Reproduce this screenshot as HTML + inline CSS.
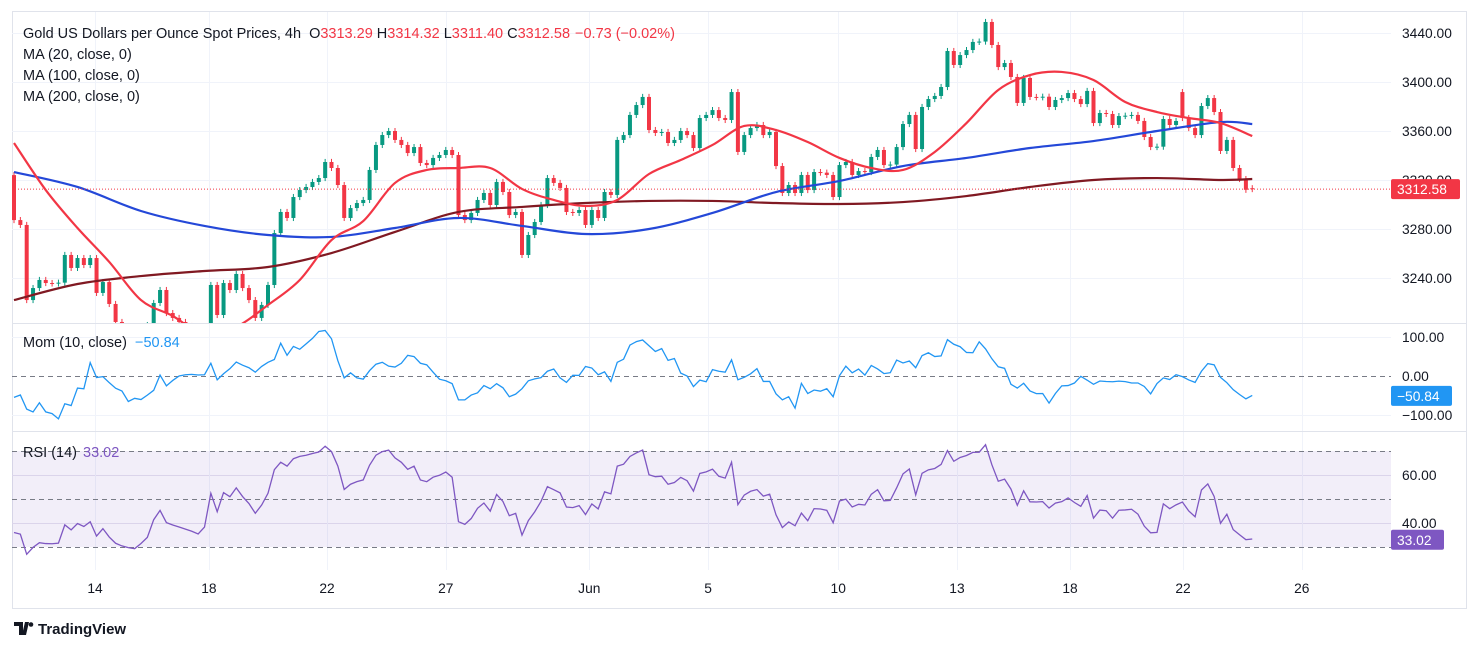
<!DOCTYPE html>
<html><head><meta charset="utf-8">
<style>
html,body{margin:0;padding:0;background:#fff;}
body{width:1479px;height:650px;overflow:hidden;position:relative;font-family:"Liberation Sans",sans-serif;}
svg text{font-family:"Liberation Sans",sans-serif;}
</style></head>
<body>
<svg id="chart" width="1479" height="650" xmlns="http://www.w3.org/2000/svg">
  <defs>
    <clipPath id="mainClip"><rect x="12" y="12" width="1379" height="311"/></clipPath>
  </defs>
  <rect x="12.5" y="11.5" width="1454" height="597" fill="#fff" stroke="#e0e3eb"/>
  <g id="grid"></g>
  <g id="rsiBand"></g>
  <g id="candles" clip-path="url(#mainClip)"></g>
  <g id="mas" clip-path="url(#mainClip)"></g>
  <g id="ind"></g>
  <g id="axes"></g>
  <line x1="12" y1="323.5" x2="1467" y2="323.5" stroke="#e0e3eb"/>
  <line x1="12" y1="431.5" x2="1467" y2="431.5" stroke="#e0e3eb"/>

  <text x="23" y="38" font-size="14.5" fill="#131722">Gold US Dollars per Ounce Spot Prices, 4h <tspan dx="4">O</tspan><tspan fill="#f23645">3313.29</tspan><tspan dx="4">H</tspan><tspan fill="#f23645">3314.32</tspan><tspan dx="4">L</tspan><tspan fill="#f23645">3311.40</tspan><tspan dx="4">C</tspan><tspan fill="#f23645">3312.58</tspan><tspan dx="5" fill="#f23645">−0.73 (−0.02%)</tspan></text>
  <text x="23" y="59" font-size="14.5" fill="#131722">MA (20, close, 0)</text>
  <text x="23" y="80" font-size="14.5" fill="#131722">MA (100, close, 0)</text>
  <text x="23" y="101" font-size="14.5" fill="#131722">MA (200, close, 0)</text>
  <text x="23" y="347" font-size="14.5" fill="#131722">Mom (10, close) <tspan dx="4" fill="#2196f3">−50.84</tspan></text>
  <text x="23" y="457" font-size="14.5" fill="#131722">RSI (14) <tspan dx="2" fill="#7e57c2">33.02</tspan></text>

  <g>
    <path d="M14 622h9v13h-4v-9h-5z M25 622h4l-3 13h-4z" fill="#131722"/>
    <circle cx="31" cy="624.5" r="2.3" fill="#131722"/>
    <text x="38" y="634" font-size="15" font-weight="bold" fill="#131722">TradingView</text>
  </g>
</svg>
<script>
// ---- data ----
const priorCloses = [3342,3332,3307,3324,3307,3328,3332,3346,3330,3324];
const firstOpen = 3324.0;
const closes = [
3287.3,3283.3,3222.0,3231.8,3238.4,3235.9,3235.5,3236.2,3258.8,3248.2,
3256.3,3250.6,3256.3,3227.8,3236.7,3218.8,3204.1,3197.6,3193.5,3191.0,
3195.9,3201.6,3219.6,3230.2,3211.4,3207.4,3204.1,3200.8,3197.6,3193.5,
3199.2,3234.3,3209.8,3235.9,3230.2,3243.3,3231.8,3222.0,3207.4,3218.0,
3234.3,3276.7,3293.9,3289.0,3306.1,3311.8,3314.3,3318.4,3321.6,3334.7,
3329.8,3315.9,3289.0,3297.1,3301.2,3303.7,3328.2,3348.6,3356.7,3360.0,
3352.7,3348.6,3342.0,3346.9,3333.9,3332.2,3338.0,3340.4,3344.5,3340.4,
3291.4,3287.3,3293.1,3303.7,3309.4,3299.6,3318.4,3310.2,3291.4,3293.9,
3258.8,3275.1,3285.7,3299.6,3321.6,3317.6,3313.5,3293.9,3293.1,3295.5,
3283.3,3295.5,3289.0,3310.2,3307.8,3352.7,3356.7,3373.1,3381.2,3387.8,
3360.8,3358.4,3359.2,3350.2,3352.7,3360.0,3356.7,3346.1,3370.6,3373.1,
3377.1,3370.6,3369.0,3391.8,3342.9,3356.7,3362.4,3364.9,3356.7,3359.2,
3331.4,3309.4,3315.9,3309.4,3324.1,3311.8,3326.5,3326.0,3324.1,3306.1,
3332.2,3334.7,3324.1,3327.3,3326.5,3338.8,3344.5,3332.2,3332.6,3346.9,
3365.7,3373.1,3345.3,3379.6,3386.1,3388.6,3395.9,3425.3,3413.9,3422.0,
3426.1,3432.7,3433.0,3449.0,3430.2,3412.2,3415.5,3404.1,3382.9,3403.3,
3387.8,3387.5,3388.0,3379.6,3385.3,3386.9,3391.0,3386.1,3382.0,3392.7,
3366.5,3374.7,3373.9,3364.9,3372.2,3372.5,3373.1,3368.2,3355.1,3346.9,
3347.2,3369.8,3364.9,3368.2,3370.6,3362.4,3356.7,3380.4,3386.9,3375.5,
3343.7,3352.7,3329.8,3320.8,3312.0,3312.58];
const gapOpens = {184: 3391.8, 195: 3313.29};
const ma20 = [3350.2,3311.8,3280.8,3253.1,3222.0,3209.0,3193.5,3200.0,3218.0,3238.4,
3271.0,3286.5,3317.6,3328.2,3329.8,3329.8,3312.7,3303.7,3298.8,3303.7,
3324.9,3336.3,3348.6,3364.1,3360.8,3351.0,3338.0,3329.8,3328.2,3342.9,
3366.5,3393.5,3405.7,3408.2,3401.6,3383.7,3375.5,3370.6,3366.5,3355.9];
const ma100 = [3326.5,3314.3,3294.7,3282.5,3275.1,3273.5,3280.8,3289.0,3282.5,3275.9,
3280.0,3293.1,3310.2,3319.2,3331.4,3338.0,3346.1,3351.8,3360.0,3367.3,3365.7];
const ma200 = [3222.0,3235.1,3241.6,3245.7,3249.0,3260.4,3277.6,3293.9,3298.0,3301.2,
3302.9,3302.9,3301.2,3300.4,3302.0,3306.9,3314.3,3320.0,3321.6,3320.0,3320.8];
const priceTicks = [3440,3400,3360,3320,3280,3240];
const momTicks = [100,0,-100];
const rsiTicks = [60,40];
const dateLabels = ["14","18","22","27","Jun","5","10","13","18","22","26"];
const dateIdx = [12.76,30.7,49.3,68,90.6,109.3,129.8,148.5,166.3,184.1,202.8];
const lastPrice = 3312.58, lastMom = -50.84, lastRsi = 33.02;

// ---- axes ----
const NS="http://www.w3.org/2000/svg";
const X = i => 14 + i*6.35;
const PY = p => 33 + (3440-p)*1.225;
const MY = v => 376 - v*0.39;
const RY = v => 499 - (v-50)*2.4;
function mk(tag, attrs, parent){const e=document.createElementNS(NS,tag);for(const k in attrs)e.setAttribute(k,attrs[k]);parent.appendChild(e);return e;}
const grid=document.getElementById('grid'), axes=document.getElementById('axes');

priceTicks.forEach(p=>{
  const g=mk('line',{x1:12,x2:1391,y1:PY(p)+0.5,y2:PY(p)+0.5,stroke:'#f0f3fa'},grid);
  
  
  const t=mk('text',{x:1402,y:PY(p)+5,'font-size':13.8,fill:'#131722'},axes);
  t.textContent=p.toFixed(2);
  
  
});
[100,-100].forEach(v=>{
  const g=mk('line',{x1:12,x2:1391,y1:MY(v)+0.5,y2:MY(v)+0.5,stroke:'#f0f3fa'},grid);
  
  
});
momTicks.forEach(v=>{
  const t=mk('text',{x:1402,y:MY(v)+5,'font-size':13.8,fill:'#131722'},axes);
  t.textContent=(v<0?'−':'')+Math.abs(v).toFixed(2);
  
  
});
rsiTicks.forEach(v=>{
  const g=mk('line',{x1:12,x2:1391,y1:RY(v)+0.5,y2:RY(v)+0.5,stroke:'#e6e3f0'},grid);
  
  
  const t=mk('text',{x:1402,y:RY(v)+5,'font-size':13.8,fill:'#131722'},axes);
  t.textContent=v.toFixed(2);
  
  
});
dateLabels.forEach((d,k)=>{
  const x=X(dateIdx[k]);
  const g=mk('line',{x1:Math.round(x)+0.5,x2:Math.round(x)+0.5,y1:12,y2:570,stroke:'#f0f3fa'},grid);
  
  
  const t=mk('text',{x:x,y:593,'font-size':13.8,fill:'#131722','text-anchor':'middle'},axes);
  t.textContent=d;
  
  
});

// RSI band and dashed levels
const band=document.getElementById('rsiBand');
const br=mk('rect',{x:12,y:RY(70),width:1379,height:RY(30)-RY(70),fill:'#7e57c2','fill-opacity':0.1},band);


[70,50,30].forEach(v=>{
  const l=mk('line',{x1:12,x2:1391,y1:RY(v)+0.5,y2:RY(v)+0.5,stroke:'#787b86','stroke-dasharray':'5,4'},band);
  
  
});
const mz=mk('line',{x1:12,x2:1391,y1:MY(0)+0.5,y2:MY(0)+0.5,stroke:'#787b86','stroke-dasharray':'5,4'},band);



// candles
const cg=document.getElementById('candles');
closes.forEach((c,i)=>{
  const o = (gapOpens[i]!==undefined) ? gapOpens[i] : (i===0 ? firstOpen : closes[i-1]);
  const up = c>=o, col = up?'#089981':'#f23645';
  const x=X(i);
  const hi=Math.max(o,c)+2.5, lo=Math.min(o,c)-2.5;
  const w=mk('line',{x1:x,x2:x,y1:PY(hi),y2:PY(lo),stroke:col,'stroke-width':1},cg);
  
  
  const top=PY(Math.max(o,c)), h=Math.max(1,PY(Math.min(o,c))-top);
  const b=mk('rect',{x:x-2,y:top,width:4,height:h,fill:col},cg);
  
  
});

// MAs
const mg=document.getElementById('mas');
function maPath(arr, step, color, name){
  const n=closes.length-1;
  const pts=arr.map((v,k)=>[X(Math.min(k*step,n)),PY(v)]);
  let d='M'+pts[0][0]+','+pts[0][1];
  for(let k=1;k<pts.length;k++){
    const p0=pts[Math.max(0,k-2)],p1=pts[k-1],p2=pts[k],p3=pts[Math.min(pts.length-1,k+1)];
    const c1=[p1[0]+(p2[0]-p0[0])/6,p1[1]+(p2[1]-p0[1])/6];
    const c2=[p2[0]-(p3[0]-p1[0])/6,p2[1]-(p3[1]-p1[1])/6];
    d+=' C'+c1[0]+','+c1[1]+' '+c2[0]+','+c2[1]+' '+p2[0]+','+p2[1];
  }
  const p=mk('path',{d:d,fill:'none',stroke:color,'stroke-width':2.2},mg);
  
  
}
maPath(ma200,10,'#801922','ma200-line');
maPath(ma100,10,'#2448d8','ma100-line');
maPath(ma20,5,'#f23645','ma20-line');

// last price line
const lp=mk('line',{x1:12,x2:1391,y1:PY(lastPrice),y2:PY(lastPrice),stroke:'#f23645','stroke-dasharray':'1,2'},axes);



// indicators
const all = priorCloses.concat(closes);
const P = priorCloses.length;
const ig=document.getElementById('ind');
let mpts=[];
closes.forEach((c,i)=>{ mpts.push(X(i)+','+MY(c-all[i+P-10])); });
const mp=mk('polyline',{points:mpts.join(' '),fill:'none',stroke:'#2196f3','stroke-width':1.3},ig);



// RSI(14) Wilder, seeded on prior closes
let ag=0, al=0;
for(let k=1;k<P;k++){const d=all[k]-all[k-1];ag+=Math.max(d,0);al+=Math.max(-d,0);}
ag/=(P-1); al/=(P-1);
let rpts=[];
for(let k=P;k<all.length;k++){
  const d=all[k]-all[k-1];
  ag=(ag*13+Math.max(d,0))/14; al=(al*13+Math.max(-d,0))/14;
  const r= al===0?100:100-100/(1+ag/al);
  rpts.push(X(k-P)+','+RY(r));
}
const rp=mk('polyline',{points:rpts.join(' '),fill:'none',stroke:'#7e57c2','stroke-width':1.3},ig);



// value badges
function badge(y,txt,col,w,name){
  const r=mk('rect',{x:1391,y:y-10,width:w,height:20,rx:2,fill:col},axes);
  
  
  const t=mk('text',{x:1397,y:y+5,'font-size':13.8,fill:'#fff'},axes);
  t.textContent=txt;
  
  
}
badge(PY(lastPrice),lastPrice.toFixed(2),'#f23645',69,'last-price-badge');
badge(MY(lastMom),'−'+Math.abs(lastMom).toFixed(2),'#2196f3',61,'mom-value-badge');
badge(RY(lastRsi),lastRsi.toFixed(2),'#7e57c2',53,'rsi-value-badge');
</script>
</body></html>
